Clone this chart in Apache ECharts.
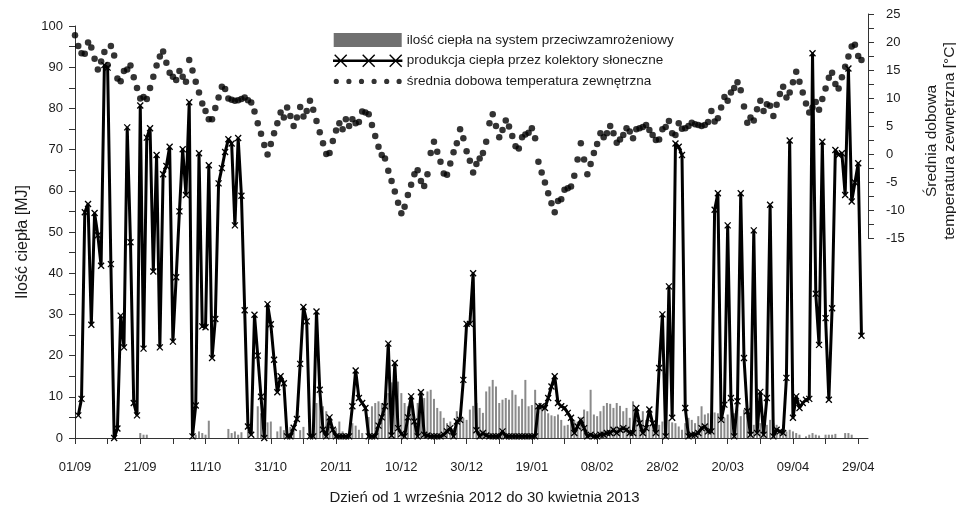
<!DOCTYPE html>
<html><head><meta charset="utf-8">
<script src="https://cdn.jsdelivr.net/npm/echarts@6/dist/echarts.min.js"></script>
<style>html,body{margin:0;padding:0;background:#fff}#c{width:956px;height:508px}</style>
</head><body><div id="c"></div>
<script>
// ---- data (index = day counted from 01/09/2012) ----
const seriesNames = ['ilość ciepła na system przeciwzamrożeniowy','produkcja ciepła przez kolektory słoneczne','średnia dobowa temperatura zewnętrzna'];
const tickDays = [0,10,20,30,40,50,60,70,80,90,100,110,120,130,140,150,160,170,180,190,200,210,220,230,240];
const labelDays = [0,20,40,60,80,100,120,140,160,180,200,220,240];
const tickLabels = ['01/09','21/09','11/10','31/10','20/11','10/12','30/12','19/01','08/02','28/02','20/03','09/04','29/04'];
const yLeftTicks = [0,10,20,30,40,50,60,70,80,90,100];
const yRightTicks = [-15,-10,-5,0,5,10,15,20,25];

const production = [null,
5.5,9.5,54.8,56.8,27.5,54.6,49.2,41.8,90.5,89.9,
42.2,0,2.3,29.7,22,75.4,47.5,8.5,5.5,80.7,
21.7,72.9,75.2,40.4,68.7,22,64,66,70.7,23.4,
39,55,70.1,59,81.5,0.4,7.9,69.1,27.1,26.9,
66.2,19.4,28.9,61.8,65.5,69.4,72.5,71.5,51.6,72.8,
58.8,31,2.8,0.8,29.9,20,10,0,32.5,27.6,
19,11.1,15,13.3,0.4,0.4,2.5,4.6,18,31.8,
28.3,0.4,0.4,30.7,11.7,2,0.4,5,2,0.4,
0.4,0.4,0.4,0.4,7.7,16.4,9.7,8.5,7.3,0.4,
0.4,0.4,3,5,7.7,22.9,0.6,18.2,2.4,1,
0.4,5,10.1,4,0.4,11.1,0.8,0.6,0.4,0.4,
0.4,0.4,0.8,1.6,2.4,0.4,4,4.4,14.1,27.7,
27.7,40,1.9,0.4,1.2,0.6,0.4,0.4,0.4,0.4,
1.6,0.4,0.4,0.4,0.4,0.4,0.4,0.4,0.4,0.4,
0.4,7.7,7.7,7.3,9.7,12.5,15,8.5,7.7,7.3,
6.1,4.9,1.2,2.8,4.4,2.4,0.4,0.8,0.4,0.4,
0.8,0.8,1.2,1.2,2,1.2,2,2.4,2,1.2,
1.2,7.3,3.6,1.2,2.4,6.9,3.6,1.2,17,30,
0.4,36.8,4.9,71.5,70.7,68.7,7.3,0.4,0.8,0.8,
1.2,2.4,2.8,1.6,1.6,55.4,59.4,4.4,8.1,51.6,
9.7,0.4,8.9,59.4,19.4,6.5,0.8,50.4,1.2,11.2,
0.8,9.7,56.6,0.4,2,1.6,1.2,14.6,72.2,4.9,
10.1,7.3,8.5,9.3,9.5,93.4,35,22.6,71.9,29.1,
9.3,31.5,69.9,68.7,69.1,59,89.7,57.4,62,66.7,24.8];

const frostHeat = [
0,0,0,0,0,0,0,0,0,0,
0,0,0,0,0,0,0,0,0,0,
1.2,0.8,0.8,0,0,0,0,0,0,0,
0,0,0,0,0,0,0,0.8,1.6,1.2,
0.8,4.2,0,0,0,0,0,2.2,1.2,1.6,
0.8,1.4,0,2,0,0,7.7,6,3.6,3.8,
4,0,1.6,2.8,1.9,0,2.7,2.7,0,1.9,
2.7,0,0,0,8.5,9.3,7.7,6.5,5.3,2.8,
2.4,4,1.6,0.8,1.2,3.6,3,2,1.2,0,
5.1,7.7,8.5,8.9,8.5,8.1,10.9,13.5,12.9,13.7,
10.9,8.5,7.7,8.5,4,8.5,8.6,9.7,11.3,11.7,
9.5,7.3,6.5,4.9,3.6,4,2.4,6.5,6,4.9,
4.4,6.9,7.8,8.5,7.3,6.1,11.3,12.5,14.1,12.5,
8.5,9.3,9.7,9.3,11.6,10.5,7.7,9.5,14.1,7.7,
8,11.7,6.5,7.7,7.3,6,5.5,5.3,5.7,4.4,
3,3.2,5.3,4.4,4,5,6.9,6.5,11.7,5.7,
5.3,6.5,7.8,8.5,8.3,7.3,8.5,7.8,6.5,7.3,
4.9,8.9,6.1,4.4,6.5,4.4,2.8,3.3,4,3.2,
4,3.6,4.4,3.8,3.6,2.8,2,3.6,4.9,4.4,
3.6,5.3,7.7,5.7,6,5.7,6.2,6,4.4,4.9,
5.7,7.7,6,6.9,5.3,6.9,5.3,6,3.2,4,
3.6,3.2,3.2,4.4,3.6,3.2,2,3.2,1.6,2,
1.6,1.2,0.8,0,0.4,0.8,1.2,0.8,0.6,0,
0.8,0.8,0.8,1,0,0,1.2,1.2,0.8,0,
0,0];

const temperature = [
21.2,19.3,18.0,17.9,19.9,19.0,17.0,15.1,16.5,18.2,
15.9,19.3,17.6,13.5,13.0,14.8,15.1,15.8,13.7,11.8,
9.9,10.2,9.8,11.8,13.8,15.8,17.4,18.3,16.3,14.5,
13.8,13.2,14.8,13.8,12.9,16.8,14.9,12.9,11.0,9.0,
7.7,6.2,6.2,8.2,10.1,12.0,11.6,9.9,9.7,9.5,
9.6,9.8,10.1,9.6,9.2,7.6,5.5,3.6,1.6,-0.1,
1.8,3.7,5.5,7.4,6.5,8.3,6.8,5.0,6.5,8.4,
6.7,7.7,9.5,7.9,5.9,3.9,1.9,0.0,0.2,2.3,
4.2,5.5,4.4,6.2,5.0,6.2,5.5,5.7,7.6,7.4,
7.1,5.2,3.2,1.3,-0.2,-0.8,-3.0,-4.8,-6.7,-8.7,
-10.6,-9.4,-7.3,-5.5,-3.6,-2.9,-4.8,-5.7,-3.6,0.2,
2.2,0.4,-1.4,-3.5,-3.7,-1.7,0.3,1.9,4.4,2.8,
0.5,-1.2,-3.3,-1.8,-0.8,0.2,2.2,5.5,7.1,5.0,
3.0,4.3,6.0,4.9,3.2,1.4,1.0,3.0,3.5,3.8,
4.6,2.8,-1.4,-3.3,-5.1,-7.0,-8.8,-10.4,-8.4,-8.1,
-6.4,-6.1,-5.8,-3.9,-1.0,1.9,-1.0,-3.6,-1.8,0.2,
1.8,3.7,3.0,3.7,5.0,3.7,2.0,2.6,3.4,4.6,
4.0,2.8,4.4,4.6,4.8,5.2,4.3,3.4,2.5,2.6,
4.4,4.8,5.9,3.7,3.4,5.5,4.5,4.6,5.0,5.6,
5.3,5.2,5.0,5.2,5.7,7.7,5.8,6.4,8.3,10.2,
9.5,11.0,11.8,12.8,11.4,8.5,5.6,6.5,6.0,8.0,
9.5,7.7,8.9,8.6,6.8,8.8,10.7,12.0,10.1,11.0,
12.8,14.7,12.9,11.0,9.0,7.4,8.3,9.3,7.9,9.8,
11.7,13.6,14.5,12.5,11.7,13.7,15.6,17.4,19.2,19.5,
17.5,16.8];

// ---- chart ----
const FONT = '"Liberation Sans", Arial, sans-serif';
const TXT = '#1a1a1a';
const AX = '#333';
const chart = echarts.init(document.getElementById('c'), null, {renderer: 'canvas'});

const prodData = production.map((v, i) => [i, v]);
const frostData = frostHeat.map((v, i) => [i, v]);
const tempData = temperature.map((v, i) => [i, v]);

const xLineIcon = 'path://M0 0M68 14M0 6.4L68 6.4L68 7.6L0 7.6Z' +
  'M1 1L13 13M13 1L1 13M29 1L41 13M41 1L29 13M56 1L68 13M68 1L56 13';
const dotsIcon = 'path://M0 0M68 14' +
  [2.6, 15.2, 27.8, 40.4, 53.0, 65.4].map(c =>
    'M' + (c - 2.6) + ' 7a2.6 2.6 0 1 0 5.2 0a2.6 2.6 0 1 0 -5.2 0Z').join('');

const option = {
  animation: false,
  backgroundColor: '#fff',
  textStyle: {fontFamily: FONT, color: TXT},
  grid: [
    {left: 75, right: 88, top: 26, bottom: 70, outerBoundsMode: 'none', containLabel: false},
    {left: 75, right: 88, top: 14, height: 224, outerBoundsMode: 'none', containLabel: false}
  ],
  legend: {
    orient: 'vertical', left: 328, top: 28,
    itemWidth: 68, itemHeight: 14, itemGap: 6,
    textStyle: {fontSize: 13.5, color: TXT, fontFamily: FONT},
    data: [
      {name: seriesNames[0], icon: 'rect', itemStyle: {color: '#707070', borderWidth: 0}},
      {name: seriesNames[1], icon: xLineIcon, itemStyle: {color: '#000', borderColor: '#000', borderWidth: 1.4}},
      {name: seriesNames[2], icon: dotsIcon, itemStyle: {color: '#000', borderWidth: 0}}
    ]
  },
  xAxis: [
    {
      gridIndex: 0, type: 'value', min: 0, max: 243,
      axisLine: {show: true, onZero: false, lineStyle: {color: AX, width: 1}},
      axisTick: {show: true, length: 6, customValues: tickDays, lineStyle: {color: AX}},
      axisLabel: {
        customValues: labelDays, margin: 23, fontSize: 13, color: TXT, fontFamily: FONT,
        formatter: v => { const k = labelDays.indexOf(Math.round(v)); return k >= 0 ? tickLabels[k] : ''; }
      },
      splitLine: {show: false},
      name: 'Dzień od 1 września 2012 do 30 kwietnia 2013',
      nameLocation: 'middle', nameGap: 52,
      nameTextStyle: {fontSize: 15, color: TXT, fontFamily: FONT, padding: [0, 0, 0, 26]}
    },
    {gridIndex: 1, type: 'value', min: 0, max: 243, show: false, axisLine: {onZero: false}}
  ],
  yAxis: [
    {
      gridIndex: 0, type: 'value', min: 0, max: 100, interval: 10, position: 'left',
      axisLine: {show: true, onZero: false, lineStyle: {color: AX}},
      axisTick: {show: true, length: 6, lineStyle: {color: AX}},
      minorTick: {show: true, splitNumber: 2, length: 6, lineStyle: {color: AX}},
      axisLabel: {fontSize: 13, color: TXT, margin: 12, fontFamily: FONT,
        formatter: v => yLeftTicks.indexOf(v) >= 0 ? String(v) : ''},
      splitLine: {show: false},
      name: 'Ilość ciepła [MJ]', nameLocation: 'middle', nameGap: 42, nameRotate: 90,
      nameTextStyle: {fontSize: 16, color: TXT, fontFamily: FONT, padding: [0, 20, 0, 0]}
    },
    {
      gridIndex: 1, type: 'value', min: -15, max: 25, interval: 5, position: 'right',
      axisLine: {show: true, onZero: false, lineStyle: {color: AX}},
      axisTick: {show: true, length: 6, lineStyle: {color: AX}},
      minorTick: {show: true, splitNumber: 2, length: 6, lineStyle: {color: AX}},
      axisLabel: {fontSize: 13, color: TXT, margin: 18, fontFamily: FONT,
        formatter: v => yRightTicks.indexOf(v) >= 0 ? String(v) : ''},
      splitLine: {show: false},
      name: 'Średnia dobowa\ntemperatura zewnętrzna [°C]', nameLocation: 'middle', nameGap: 55, nameRotate: 90,
      nameTextStyle: {fontSize: 15.5, color: TXT, fontFamily: FONT, lineHeight: 18, padding: [0, 30, 0, 0]}
    }
  ],
  series: [
    {
      name: seriesNames[0], type: 'bar', xAxisIndex: 0, yAxisIndex: 0,
      data: frostData, barWidth: 2,
      itemStyle: {color: '#8a8a8a'}
    },
    {
      name: seriesNames[1], type: 'line', xAxisIndex: 0, yAxisIndex: 0,
      data: prodData, connectNulls: false,
      lineStyle: {color: '#000', width: 3},
      symbol: 'path://M0 0L10 10M10 0L0 10', symbolSize: 6, showSymbol: true,
      itemStyle: {color: '#000', borderColor: '#000', borderWidth: 1.3}
    },
    {
      name: seriesNames[2], type: 'scatter', xAxisIndex: 1, yAxisIndex: 1,
      data: tempData, symbol: 'circle', symbolSize: 6.5,
      itemStyle: {color: '#000'}
    }
  ]
};
chart.setOption(option);
</script>
</body></html>
